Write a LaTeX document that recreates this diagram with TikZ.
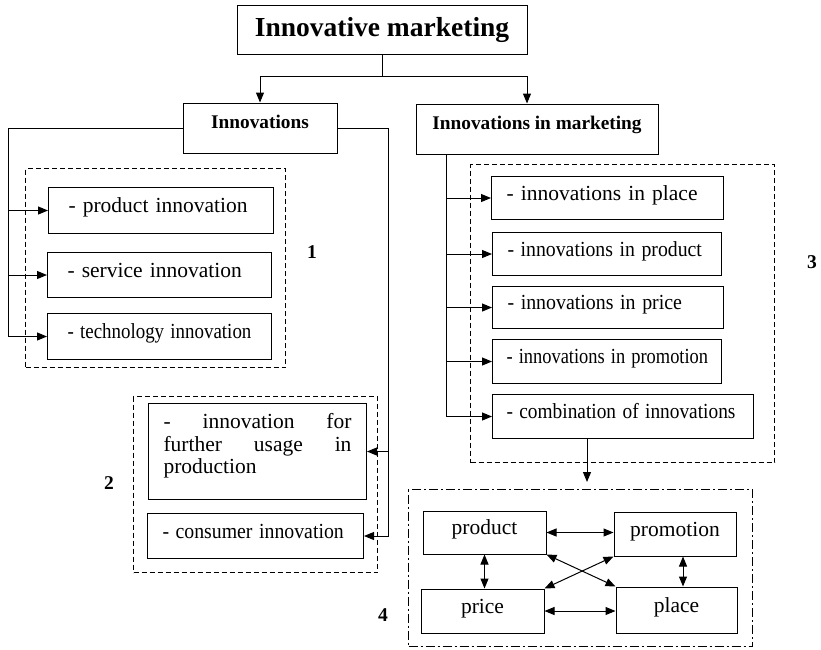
\documentclass[tikz,border=0pt]{standalone}
\usepackage{graphicx}
\usepackage{fontspec}
\setmainfont{Liberation Serif}
\usetikzlibrary{arrows.meta}
\newcommand{\squeeze}[2]{\scalebox{#1}[1]{#2}}

\begin{document}
\begin{tikzpicture}[
                x=1pt, y=-1pt, line width=1pt, >={Triangle[length=10pt,width=8pt]},
                titlenode/.style = {draw, minimum width=290pt, minimum height=49pt, font=\fontsize{27.5}{30}\selectfont\bfseries},
                headnode/.style = {draw, minimum height=50pt, inner ysep=0pt, text height=25pt, text depth=25pt, font=\fontsize{19.3}{22}\selectfont\bfseries},
                itemnode/.style = {draw, anchor=north west, align=left, inner xsep=15pt, inner ysep=0pt, text height=12pt, text depth=8pt, font=\fontsize{21.5}{22.5}\selectfont},
                mixnode/.style = {draw, inner sep=0pt, text height=12pt, text depth=8pt, font=\fontsize{21.5}{22.5}\selectfont},
                groupbox/.style = {draw, anchor=north west, inner sep=0pt, dash pattern=on 5pt off 3pt},
                grouplabel/.style = {font=\fontsize{19.5}{22.5}\selectfont\bfseries, inner sep=0pt}
        ]
        \useasboundingbox (0,0) rectangle (821,649);

        \node[groupbox, minimum width=260pt, minimum height=199pt] (grp1) at (25,168) {};
        \node[groupbox, minimum width=244pt, minimum height=176pt] (grp2) at (133,396) {};
        \node[groupbox, minimum width=304pt, minimum height=298pt] (grp3) at (470,164) {};
        \node[groupbox, minimum width=344pt, minimum height=157pt, dash pattern=on 9pt off 3pt on 2pt off 3pt] (grp4) at (408,489) {};

        \node[titlenode] (title) at (382,29.5) {Innovative marketing};
        \node[headnode, minimum width=154pt] (innov) at (260,128) {Innovations};
        \node[headnode, minimum width=242pt] (mkt) at (537,129) {Innovations in marketing};

        \node[itemnode, inner xsep=20pt, text width=185pt, minimum height=46pt] (prod1) at (48,187) {- product innovation};
        \node[itemnode, inner xsep=20pt, text width=184pt, minimum height=45pt] (serv1) at (47,252) {- service innovation};
        \node[itemnode, inner xsep=20pt, text width=184pt, minimum height=46pt] (tech1) at (47,313) {\squeeze{0.88}{- technology innovation}};

        \node[itemnode, text width=188pt, align=justify, text height=25pt, text depth=71pt] (furth) at (148,403)
                {- innovation for\linebreak further usage in\linebreak production};
        \node[itemnode, text width=186pt, minimum height=45pt] (cons) at (147,513) {\squeeze{0.92}{- consumer innovation}};

        \node[itemnode, text width=202pt, minimum height=43pt] (plc) at (491,176) {- innovations in place};
        \node[itemnode, text width=199pt, minimum height=43pt] (prd) at (492,232) {\squeeze{0.92}{- innovations in product}};
        \node[itemnode, text width=201pt, minimum height=42pt] (prc) at (492,286) {\squeeze{0.925}{- innovations in price}};
        \node[itemnode, inner xsep=14pt, text width=201pt, minimum height=44pt] (prm) at (492,339) {\squeeze{0.857}{- innovations in promotion}};
        \node[itemnode, inner xsep=14pt, text width=233pt, minimum height=44pt] (comb) at (492,394) {\squeeze{0.9}{- combination of innovations}};

        \node[mixnode, minimum width=123pt, minimum height=43pt] (mprod) at (484.5,532.5) {product};
        \node[mixnode, minimum width=122pt, minimum height=44pt] (mprom) at (675,534) {promotion};
        \node[mixnode, minimum width=123pt, minimum height=44pt] (mprice) at (482.5,611) {price};
        \node[mixnode, minimum width=121pt, minimum height=46pt] (mplace) at (676.5,610) {place};

        \node[grouplabel] (lab1) at (312,252) {1};
        \node[grouplabel] (lab2) at (109,483) {2};
        \node[grouplabel] (lab3) at (812,262) {3};
        \node[grouplabel] (lab4) at (383,615) {4};

        \coordinate (fork) at (382,76);
        \coordinate (mktin) at (527,0);
        \coordinate (lrail) at (8,0);
        \coordinate (rrail) at (388,0);
        \coordinate (mrail) at (446,0);
        \coordinate (drop) at (587,0);
        \coordinate (pmx) at (683,0);

        \draw (title.south) -- (fork);
        \draw[->] (fork) -| (innov.north);
        \draw[->] (fork) -| (mktin |- mkt.north);

        \draw[->] (innov.west) -| (lrail |- tech1.west) -- (tech1.west);
        \draw[->] (lrail |- prod1.west) -- (prod1.west);
        \draw[->] (lrail |- serv1.west) -- (serv1.west);

        \draw[->] (innov.east) -| (rrail |- cons.east) -- (cons.east);
        \draw[->] (rrail |- furth.east) -- (furth.east);

        \draw[->] (mrail |- mkt.south) -- (mrail |- comb.west) -- (comb.west);
        \foreach \n in {plc, prd, prc, prm}
                \draw[->] (mrail |- \n.west) -- (\n.west);

        \draw[->, shorten >=7pt] (drop |- comb.south) -- (drop |- grp4.north);

        \draw[<->] (mprod.east) -- (mprod.east -| mprom.west);
        \draw[<->] (mprice.east) -- (mprice.east -| mplace.west);
        \draw[<->] (mprod.south) -- (mprod.south |- mprice.north);
        \draw[<->] (pmx |- mprom.south) -- (pmx |- mplace.north);
        \draw[<->] (mprod.south east) -- (mplace.north west);
        \draw[<->] (mprom.south west) -- (mprice.north east);
\end{tikzpicture}
\end{document}
